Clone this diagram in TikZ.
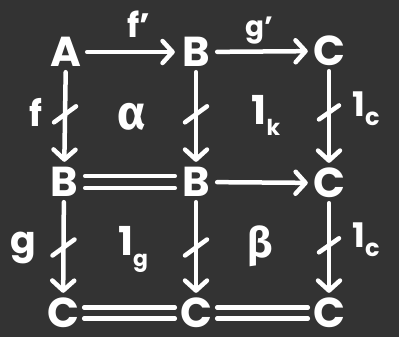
\documentclass[tikz,border=0pt]{standalone}
\usepackage{fontspec}
\setmainfont{Poppins}
\newfontfamily\grk{Fira Sans}
\usetikzlibrary{arrows.meta}
\definecolor{bg}{HTML}{333333}
\newcommand{\fsz}[1]{\fontsize{#1}{#1}\selectfont\bfseries}
\begin{document}
\begin{tikzpicture}[x=1bp,y=-1bp,
  obj/.style={text=white, font=\fsz{42}, inner sep=0pt, minimum width=42bp, minimum height=40bp},
  lbl/.style={text=white, font=\fsz{30}, inner sep=0pt},
  ln/.style={draw=white, line width=4.5bp, line cap=round},
  arr/.style={ln, -{Straight Barb[length=10bp,width=22bp,round]}},
]
\path[fill=bg] (0,0) rectangle (399,337);
% objects
\node[obj] (A)  at (66,52)  {A};
\node[obj] (B1) at (196,52) {B};
\node[obj] (C1) at (329,51) {C};
\node[obj] (B2) at (64,182) {B};
\node[obj] (B3) at (196,182) {B};
\node[obj] (C2) at (329,183) {C};
\node[obj] (C3) at (63,313) {C};
\node[obj] (C4) at (196,313) {C};
\node[obj] (C5) at (329,313) {C};
% horizontal arrows
\draw[arr] (A) -- (B1);
\draw[arr] (B1) -- (C1);
\draw[arr] (B3) -- (C2);
% double lines
\draw[ln] ([yshift=6bp]B2.east) -- ([yshift=6bp]B3.west);
\draw[ln] ([yshift=-6bp]B2.east) -- ([yshift=-6bp]B3.west);
\draw[ln] ([yshift=5.5bp]C3.east) -- ([yshift=5.5bp]C4.west);
\draw[ln] ([yshift=-5.5bp]C3.east) -- ([yshift=-5.5bp]C4.west);
\draw[ln] ([yshift=5.5bp]C4.east) -- ([yshift=5.5bp]C5.west);
\draw[ln] ([yshift=-5.5bp]C4.east) -- ([yshift=-5.5bp]C5.west);
% vertical arrows with slash marks
\draw[arr] (A) -- coordinate[pos=0.47] (s1) (B2);
\draw[arr] (B1) -- coordinate[pos=0.47] (s2) (B3);
\draw[arr] (C1) -- coordinate[pos=0.45] (s3) (C2);
\draw[arr] (B2) -- coordinate[pos=0.5] (s4) (C3);
\draw[arr] (B3) -- coordinate[pos=0.5] (s5) (C4);
\draw[arr] (C2) -- coordinate[pos=0.47] (s6) (C5);
\draw[ln] ([shift={(-11,8)}]s1) -- ([shift={(11,-8)}]s1);
\draw[ln] ([shift={(-11,8)}]s2) -- ([shift={(11,-8)}]s2);
\draw[ln] ([shift={(-10,7)}]s3) -- ([shift={(10,-7)}]s3);
\draw[ln] ([shift={(-11,8)}]s4) -- ([shift={(11,-8)}]s4);
\draw[ln] ([shift={(-11,8)}]s5) -- ([shift={(11,-8)}]s5);
\draw[ln] ([shift={(-10,7)}]s6) -- ([shift={(10,-7)}]s6);
% labels
\node[lbl, font=\fsz{34}] (lf1) at (139,24) {f’};
\node[lbl, font=\fsz{28}] (lg1) at (259,31) {g’};
\node[lbl, font=\fsz{36}] (lf)  at (36,112) {f};
\node[lbl, font=\fsz{38}] (lg)  at (23,248) {g};
\node[lbl, font=\fsz{48}\grk] (lal) at (132,117) {α};
\node[lbl, font=\fsz{42}\grk] (lbe) at (260,246) {β};
\node[lbl, font=\fsz{40}] (l1k) at (266,115) {1\raisebox{-11bp}{\fsz{22}k}};
\node[lbl, font=\fsz{40}] (l1g) at (133,249) {1\raisebox{-11bp}{\fsz{22}g}};
\node[lbl, font=\fsz{34}] (l1c1) at (366,109) {1\raisebox{-9bp}{\fsz{24}c}};
\node[lbl, font=\fsz{34}] (l1c2) at (366,240) {1\raisebox{-9bp}{\fsz{24}c}};
\end{tikzpicture}
\end{document}
